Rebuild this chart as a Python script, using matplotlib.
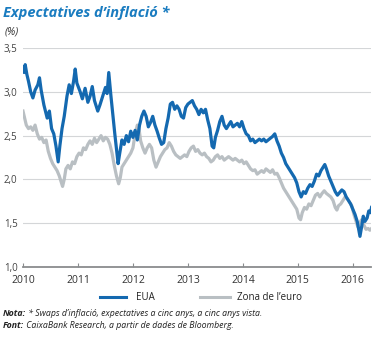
import matplotlib
matplotlib.use("Agg")
import matplotlib.pyplot as plt

# EUA (five-year, five-year forward inflation swaps)
eua_t = [2010.00, 2010.02, 2010.04, 2010.07, 2010.10, 2010.14, 2010.18, 2010.22, 2010.27, 2010.30,
         2010.33, 2010.38, 2010.44, 2010.48, 2010.52, 2010.56, 2010.60, 2010.64, 2010.67, 2010.71,
         2010.75, 2010.80, 2010.84, 2010.88, 2010.92, 2010.95, 2010.98, 2011.04, 2011.08, 2011.13,
         2011.18, 2011.22, 2011.26, 2011.30, 2011.36, 2011.40, 2011.45, 2011.50, 2011.53, 2011.56,
         2011.60, 2011.64, 2011.67, 2011.70, 2011.73, 2011.76, 2011.80, 2011.84, 2011.88, 2011.92,
         2011.96, 2012.00, 2012.04, 2012.08, 2012.12, 2012.16, 2012.20, 2012.24, 2012.28, 2012.32,
         2012.36, 2012.40, 2012.44, 2012.48, 2012.52, 2012.56, 2012.60, 2012.64, 2012.68, 2012.72,
         2012.76, 2012.80, 2012.84, 2012.88, 2012.92, 2012.96, 2013.00, 2013.04, 2013.08, 2013.12,
         2013.16, 2013.20, 2013.24, 2013.28, 2013.32, 2013.36, 2013.40, 2013.44, 2013.47, 2013.50,
         2013.54, 2013.58, 2013.62, 2013.66, 2013.70, 2013.74, 2013.78, 2013.82, 2013.86, 2013.90,
         2013.94, 2013.98, 2014.02, 2014.06, 2014.10, 2014.14, 2014.18, 2014.22, 2014.26, 2014.30,
         2014.34, 2014.38, 2014.42, 2014.46, 2014.50, 2014.54, 2014.58, 2014.62, 2014.66, 2014.70,
         2014.74, 2014.78, 2014.82, 2014.86, 2014.90, 2014.94, 2014.98, 2015.02, 2015.06, 2015.10,
         2015.14, 2015.18, 2015.22, 2015.26, 2015.30, 2015.34, 2015.38, 2015.42, 2015.46, 2015.49,
         2015.52, 2015.56, 2015.60, 2015.64, 2015.68, 2015.72, 2015.76, 2015.80, 2015.84, 2015.88,
         2015.92, 2015.96, 2016.00, 2016.04, 2016.08, 2016.11, 2016.13, 2016.16, 2016.19, 2016.22,
         2016.26, 2016.29, 2016.32, 2016.34]
eua_v = [3.28, 3.22, 3.31, 3.20, 3.12, 3.00, 2.93, 3.02, 3.08, 3.16,
         3.02, 2.85, 2.70, 2.78, 2.58, 2.52, 2.38, 2.20, 2.38, 2.58,
         2.72, 2.95, 3.08, 2.98, 3.12, 3.26, 3.10, 3.00, 2.92, 3.04,
         2.88, 2.95, 3.06, 2.90, 2.78, 2.85, 2.95, 3.05, 2.98, 3.22,
         2.95, 2.70, 2.52, 2.35, 2.18, 2.30, 2.45, 2.40, 2.50, 2.43,
         2.55, 2.48, 2.56, 2.45, 2.62, 2.72, 2.78, 2.72, 2.60, 2.65,
         2.72, 2.62, 2.55, 2.47, 2.40, 2.42, 2.58, 2.70, 2.86, 2.88,
         2.80, 2.84, 2.80, 2.72, 2.70, 2.82, 2.86, 2.88, 2.90, 2.84,
         2.80, 2.74, 2.80, 2.76, 2.80, 2.68, 2.58, 2.38, 2.36, 2.48,
         2.56, 2.66, 2.72, 2.62, 2.58, 2.62, 2.66, 2.60, 2.62, 2.64,
         2.60, 2.66, 2.58, 2.52, 2.50, 2.44, 2.46, 2.42, 2.44, 2.46,
         2.44, 2.46, 2.43, 2.45, 2.47, 2.49, 2.52, 2.44, 2.38, 2.30,
         2.25, 2.18, 2.14, 2.10, 2.06, 2.02, 1.96, 1.86, 1.80, 1.86,
         1.84, 1.90, 1.94, 1.92, 1.98, 2.06, 2.04, 2.10, 2.14, 2.17,
         2.12, 2.04, 1.98, 1.92, 1.86, 1.82, 1.85, 1.88, 1.86, 1.80,
         1.76, 1.72, 1.66, 1.60, 1.52, 1.42, 1.35, 1.46, 1.58, 1.52,
         1.56, 1.64, 1.62, 1.68]

# Zona de l'euro
euro_t = [2010.00, 2010.03, 2010.06, 2010.10, 2010.14, 2010.18, 2010.22, 2010.26, 2010.30, 2010.34,
          2010.38, 2010.42, 2010.46, 2010.50, 2010.54, 2010.58, 2010.62, 2010.66, 2010.69, 2010.72,
          2010.75, 2010.78, 2010.82, 2010.86, 2010.90, 2010.94, 2010.98, 2011.02, 2011.06, 2011.10,
          2011.14, 2011.18, 2011.22, 2011.26, 2011.30, 2011.34, 2011.38, 2011.42, 2011.46, 2011.50,
          2011.54, 2011.58, 2011.62, 2011.66, 2011.70, 2011.74, 2011.77, 2011.80, 2011.84, 2011.88,
          2011.92, 2011.96, 2012.00, 2012.04, 2012.08, 2012.11, 2012.14, 2012.18, 2012.22, 2012.26,
          2012.30, 2012.34, 2012.38, 2012.42, 2012.46, 2012.50, 2012.54, 2012.58, 2012.62, 2012.66,
          2012.70, 2012.74, 2012.78, 2012.82, 2012.86, 2012.90, 2012.94, 2012.98, 2013.02, 2013.06,
          2013.10, 2013.14, 2013.18, 2013.22, 2013.26, 2013.30, 2013.34, 2013.38, 2013.42, 2013.46,
          2013.50, 2013.54, 2013.58, 2013.62, 2013.66, 2013.70, 2013.74, 2013.78, 2013.82, 2013.86,
          2013.90, 2013.94, 2013.98, 2014.02, 2014.06, 2014.10, 2014.14, 2014.18, 2014.22, 2014.26,
          2014.30, 2014.34, 2014.38, 2014.42, 2014.46, 2014.50, 2014.54, 2014.58, 2014.62, 2014.66,
          2014.70, 2014.74, 2014.78, 2014.82, 2014.86, 2014.90, 2014.94, 2014.98, 2015.02, 2015.05,
          2015.08, 2015.12, 2015.16, 2015.20, 2015.24, 2015.28, 2015.32, 2015.36, 2015.40, 2015.44,
          2015.48, 2015.52, 2015.56, 2015.60, 2015.64, 2015.68, 2015.71, 2015.74, 2015.78, 2015.82,
          2015.86, 2015.90, 2015.94, 2015.98, 2016.02, 2016.06, 2016.09, 2016.12, 2016.16, 2016.20,
          2016.24, 2016.28, 2016.31, 2016.34]
euro_v = [2.78, 2.70, 2.62, 2.58, 2.60, 2.56, 2.62, 2.52, 2.46, 2.48,
          2.42, 2.45, 2.32, 2.24, 2.18, 2.14, 2.10, 2.04, 1.98, 1.92,
          2.00, 2.12, 2.16, 2.12, 2.20, 2.18, 2.26, 2.30, 2.28, 2.36,
          2.34, 2.40, 2.44, 2.40, 2.47, 2.42, 2.46, 2.50, 2.44, 2.48,
          2.46, 2.40, 2.30, 2.16, 2.04, 1.95, 2.02, 2.14, 2.18, 2.22,
          2.26, 2.30, 2.36, 2.52, 2.62, 2.58, 2.44, 2.36, 2.30, 2.36,
          2.40, 2.36, 2.22, 2.14, 2.20, 2.26, 2.30, 2.34, 2.36, 2.42,
          2.38, 2.32, 2.28, 2.26, 2.24, 2.26, 2.28, 2.26, 2.32, 2.36,
          2.38, 2.32, 2.34, 2.30, 2.28, 2.30, 2.26, 2.24, 2.20, 2.22,
          2.26, 2.28, 2.24, 2.26, 2.22, 2.24, 2.26, 2.24, 2.22, 2.24,
          2.22, 2.20, 2.22, 2.18, 2.20, 2.16, 2.12, 2.10, 2.11, 2.06,
          2.08, 2.10, 2.08, 2.12, 2.10, 2.08, 2.11, 2.06, 2.07, 2.02,
          1.96, 1.90, 1.86, 1.82, 1.78, 1.74, 1.70, 1.66, 1.56, 1.54,
          1.62, 1.68, 1.66, 1.72, 1.70, 1.76, 1.82, 1.84, 1.80, 1.84,
          1.87, 1.84, 1.82, 1.80, 1.76, 1.68, 1.65, 1.70, 1.72, 1.76,
          1.80, 1.78, 1.74, 1.70, 1.60, 1.52, 1.46, 1.50, 1.54, 1.48,
          1.43, 1.44, 1.42, 1.44]

years = [2010, 2011, 2012, 2013, 2014, 2015, 2016]
yticks = [1.0, 1.5, 2.0, 2.5, 3.0, 3.5]
ytick_labels = ["1,0", "1,5", "2,0", "2,5", "3,0", "3,5"]

blue = "#1469b0"
grey = "#b9bfc3"
title_blue = "#1a7cc0"

plt.rcParams["font.family"] = ["Open Sans", "DejaVu Sans"]

fig = plt.figure(figsize=(3.77, 3.38), dpi=100)
ax = fig.add_axes([0.061, 0.21, 0.923, 0.648])

ax.plot(euro_t, euro_v, color=grey, lw=2.3, solid_joinstyle="round")
ax.plot(eua_t, eua_v, color=blue, lw=2.3, solid_joinstyle="round")

ax.set_xlim(2010, 2016.33)
ax.set_ylim(1.0, 3.5)
ax.set_yticks(yticks)
ax.set_yticklabels(ytick_labels)
ax.set_xticks(years)
ax.set_xticklabels([str(y) for y in years])
ax.grid(axis="y", color="#d4d6d8", lw=0.8)
ax.set_axisbelow(True)
for s in ["top", "right", "left"]:
    ax.spines[s].set_visible(False)
ax.spines["bottom"].set_color("#8a8c8e")
ax.spines["bottom"].set_linewidth(1.3)
ax.tick_params(axis="y", length=0, labelsize=7, colors="#444444", pad=4)
ax.tick_params(axis="x", direction="in", length=3, color="#8a8c8e", labelsize=7.5,
               colors="#333333", pad=6)

# title and unit
fig.text(0.008, 0.962, "Expectatives d\u2019inflació *", color=title_blue, fontsize=10.5,
         fontweight="bold", fontstyle="italic", va="center", ha="left")
fig.text(0.013, 0.905, "(%)", fontsize=7.5, fontstyle="italic", color="#333333",
         va="center", ha="left")

# legend
ly = 1 - 297 / 338
fig.add_artist(plt.Line2D([100 / 377, 126 / 377], [ly, ly], color=blue, lw=2.2))
fig.text(136 / 377, ly, "EUA", fontsize=7, va="center", color="#222222")
fig.add_artist(plt.Line2D([200 / 377, 230 / 377], [ly, ly], color=grey, lw=2.2))
fig.text(237 / 377, ly, "Zona de l\u2019euro", fontsize=7, va="center", color="#222222")

# notes
fig.canvas.draw()
r = fig.canvas.get_renderer()
notes = [("Nota:", " * Swaps d\u2019inflació, expectatives a cinc anys, a cinc anys vista.", 1 - 313 / 338),
         ("Font:", " CaixaBank Research, a partir de dades de Bloomberg.", 1 - 326 / 338)]
for head, rest, y in notes:
    t = fig.text(0.008, y, head, fontsize=6.3, fontweight="bold", fontstyle="italic",
                 va="center", color="#222222")
    bb = t.get_window_extent(renderer=r)
    fig.text(bb.x1 / fig.bbox.width, y, rest, fontsize=6.3, fontstyle="italic",
             va="center", color="#222222")

fig.savefig("out.png", dpi=100)
